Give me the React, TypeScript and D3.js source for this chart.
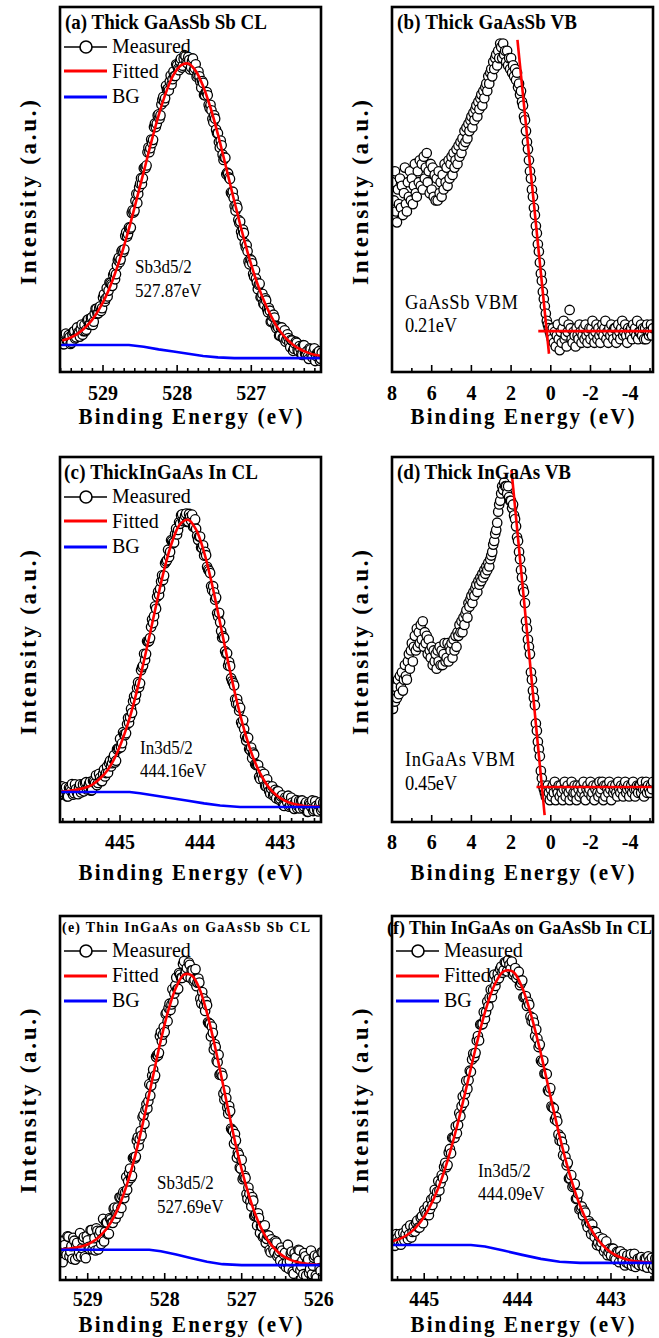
import React from 'react';
import * as d3 from 'd3';

const FONT = "'Liberation Serif', 'Times New Roman', Times, serif";
type Pt = [number, number];

// ---------------- data ----------------
// tick labels
const ticksA = [529, 528, 527];
const ticksC = [445, 444, 443];
const ticksE = [529, 528, 527, 526];
const ticksF = [445, 444, 443];
const ticksVB = [8, 6, 4, 2, 0, -2, -4];

// (a) Thick GaAsSb Sb CL
const aFitStart = 529.55;
const aFit = [8.6, 9.3, 10.4, 12.0, 14.2, 17.3, 21.2, 26.3, 32.3, 39.3, 47.0, 54.9, 62.9, 70.3, 76.6, 81.4, 84.0, 84.5, 82.5, 78.3, 72.4, 65.1, 56.9, 48.5, 40.4, 32.8, 26.1, 20.5, 16.0, 12.3, 9.6, 7.7, 6.3, 5.4, 4.7, 4.4];
const aMeasStart = 529.55;
const aMeas = [
  9.4, 7.6, 10.5, 8.6, 9.6, 8.0, 11.0, 9.2, 12.2, 10.6, 11.8, 10.2, 12.9, 11.6, 14.4, 13.0,
  15.0, 13.8, 17.3, 16.0, 17.6, 16.7, 20.4, 19.3, 23.0, 22.3, 24.4, 23.6, 27.2, 26.8, 30.6, 30.1,
  33.1, 32.9, 37.3, 37.1, 39.6, 39.6, 44.3, 44.2, 48.8, 48.8, 51.6, 51.5, 55.8, 55.9, 60.2, 60.2,
  63.7, 63.6, 68.1, 68.0, 70.6, 70.3, 74.6, 74.1, 78.4, 77.6, 79.6, 78.8, 82.3, 81.1, 84.0, 82.7,
  85.8, 83.9, 86.8, 84.9, 86.3, 82.9, 85.1, 82.6, 84.3, 81.3, 81.0, 77.9, 79.2, 75.8, 76.7, 73.2,
  73.2, 69.4, 70.3, 66.4, 65.4, 61.5, 62.1, 58.1, 58.7, 54.6, 53.3, 49.2, 49.4, 45.5, 45.8, 41.7,
  41.2, 37.3, 38.1, 34.2, 33.1, 29.5, 30.6, 26.9, 27.9, 24.5, 23.9, 20.5, 21.4, 18.4, 19.6, 16.4,
  16.8, 13.9, 15.7, 12.7, 12.6, 10.0, 12.1, 9.4, 11.4, 8.9, 9.3, 6.8, 8.6, 6.4, 8.3, 6.0,
  7.1, 4.9, 7.4, 5.1, 5.7, 3.6, 6.2, 4.0, 6.5, 4.4, 5.2, 3.1, 5.3,
];
const aMeas2Start = 529.5375;
const aMeas2 = [
  7.6, 10.3, 8.6, 10.1, 7.7, 10.3, 11.2, 9.5, 10.8, 9.7, 13.0, 11.2, 11.2, 14.2, 13.0, 14.8,
  12.9, 16.0, 17.3, 16.1, 18.0, 17.5, 21.3, 20.1, 20.7, 24.5, 24.0, 26.6, 25.4, 29.2, 31.3, 30.8,
  33.4, 33.6, 38.3, 37.8, 39.2, 43.6, 43.7, 46.9, 46.3, 50.6, 53.1, 53.1, 56.1, 56.6, 61.5, 61.3,
  62.7, 67.1, 67.1, 70.3, 69.4, 73.3, 75.4, 75.0, 77.4, 77.1, 81.2, 80.2, 81.1, 84.3, 83.1, 85.1,
  83.4, 85.8, 86.5, 84.6, 85.5, 83.5, 85.9, 83.2, 80.9, 82.3, 79.5, 79.7, 75.9, 76.7, 75.8, 72.3,
  71.7, 68.4, 69.4, 65.4, 63.0, 63.4, 59.6, 58.8, 54.2, 54.4, 52.9, 48.8, 47.7, 44.2, 45.0, 40.8,
  38.4, 39.0, 35.3, 34.7, 30.3, 30.9, 29.8, 26.1, 25.6, 22.7, 24.2, 20.6, 18.8, 20.2, 17.3, 17.5,
  13.8, 15.2, 14.9, 12.0, 12.2, 10.0, 12.2, 9.3, 8.3, 10.3, 8.0, 8.8, 5.8, 7.8, 8.0, 5.7,
  6.4, 4.7, 7.3, 4.9, 4.2, 6.5, 4.6, 5.7, 3.0, 5.2, 5.7, 3.6,
];
const aBG: Pt[] = [[529.58, 7.4], [528.65, 7.4], [528.45, 6.9], [528.25, 6.2], [528.05, 5.6], [527.85, 5.0], [527.65, 4.4], [527.45, 4.0], [527.23, 3.8], [526.06, 3.8]];

// (c) Thick InGaAs In CL
const cFitStart = 445.75;
const cFit = [8.3, 8.5, 8.8, 9.3, 10.2, 11.9, 14.4, 18.3, 23.8, 30.8, 39.5, 49.2, 59.3, 69.0, 76.7, 81.6, 82.8, 80.1, 73.9, 65.0, 54.5, 43.8, 33.9, 25.3, 18.4, 13.3, 9.7, 7.4, 5.9, 5.05, 4.6, 4.3, 4.2, 4.15];
const cMeasStart = 445.75;
const cMeas = [
  7.4, 9.8, 8.1, 9.5, 7.0, 9.1, 10.4, 7.9, 9.0, 7.6, 10.3, 8.8, 8.4, 10.9, 9.5, 11.0,
  8.7, 11.1, 12.8, 10.7, 12.1, 11.2, 14.4, 13.4, 13.5, 16.8, 16.1, 18.3, 16.8, 20.2, 22.8, 21.6,
  24.0, 24.3, 28.5, 28.7, 29.9, 34.4, 34.9, 38.3, 38.0, 42.4, 46.1, 46.0, 49.4, 50.4, 55.5, 56.4,
  58.4, 63.1, 63.9, 67.6, 67.5, 71.4, 74.6, 74.0, 76.9, 76.6, 80.4, 80.0, 81.7, 84.3, 82.9, 84.5,
  82.3, 83.6, 84.2, 81.0, 80.3, 77.3, 78.2, 75.1, 73.0, 73.1, 69.2, 68.2, 63.5, 62.9, 61.5, 56.3,
  54.7, 50.5, 50.4, 46.1, 42.9, 42.7, 38.6, 37.4, 32.4, 32.3, 31.3, 26.7, 25.5, 22.3, 23.1, 19.7,
  17.5, 18.5, 15.6, 15.6, 11.8, 12.9, 13.2, 9.8, 9.9, 7.8, 9.8, 7.6, 6.5, 8.4, 6.4, 7.3,
  4.4, 6.2, 7.2, 4.5, 5.3, 3.6, 6.0, 4.3, 3.7, 5.9, 4.2, 5.4, 2.8, 4.8, 5.9, 3.4,
  4.4, 2.9, 5.4, 3.8, 3.3,
];
const cMeas2Start = 445.7375;
const cMeas2 = [
  9.5, 7.7, 8.9, 7.0, 9.4, 8.4, 7.5, 10.3, 8.0, 9.4, 8.1, 10.3, 10.6, 8.9, 10.4, 8.6,
  11.3, 10.6, 10.1, 13.2, 11.3, 13.2, 12.5, 15.2, 16.1, 15.2, 17.3, 16.3, 19.9, 20.2, 20.5, 24.6,
  23.8, 26.8, 27.2, 31.0, 33.1, 33.4, 36.7, 36.9, 41.6, 42.9, 44.4, 49.5, 49.6, 53.4, 54.5, 59.1,
  61.7, 62.2, 65.9, 66.3, 70.9, 71.7, 72.6, 77.2, 76.4, 78.9, 78.8, 82.1, 84.0, 82.4, 83.9, 82.2,
  84.4, 82.6, 80.9, 82.9, 78.4, 78.2, 75.2, 75.8, 74.0, 69.9, 68.8, 64.6, 64.6, 60.9, 57.2, 57.3,
  52.3, 50.9, 46.8, 46.2, 43.8, 39.4, 38.1, 33.6, 33.7, 30.5, 27.3, 27.9, 23.5, 23.1, 20.0, 20.4,
  19.0, 15.8, 15.7, 12.4, 13.8, 11.8, 9.9, 11.7, 8.5, 9.2, 7.3, 8.8, 8.4, 6.1, 7.0, 4.6,
  6.7, 5.4, 4.2, 6.7, 4.1, 5.3, 3.8, 5.8, 5.8, 3.8, 4.9, 2.8, 5.2, 4.1, 3.0, 5.7,
  3.3, 4.6, 3.2, 5.3,
];
const cBG: Pt[] = [[445.75, 8.2], [444.88, 8.2], [444.75, 7.9], [444.55, 7.2], [444.35, 6.5], [444.15, 5.8], [443.95, 5.1], [443.75, 4.5], [443.5, 4.1], [442.45, 4.1]];

// (e) Thin InGaAs on GaAsSb Sb CL
const eFitStart = 529.35;
const eFit = [8.4, 8.6, 8.9, 9.4, 10.35, 11.9, 14.2, 17.7, 22.6, 29.0, 37.0, 46.3, 56.2, 65.9, 74.3, 80.5, 83.9, 83.7, 80.1, 73.3, 64.4, 54.45, 44.2, 34.6, 26.4, 19.6, 14.4, 10.6, 8.1, 6.4, 5.4, 4.8, 4.45, 4.25, 4.15];
const eMeasStart = 529.35;
const eMeas = [
  10.8, 4.9, 9.6, 6.9, 11.9, 7.8, 5.8, 10.8, 9.5, 6.5, 12.9, 8.8, 11.8, 6.0, 10.9, 8.5,
  13.7, 9.8, 8.1, 13.5, 12.5, 9.9, 16.8, 13.2, 15.8, 12.7, 16.7, 15.7, 19.9, 18.3, 18.2, 22.7,
  23.0, 22.5, 28.3, 27.1, 30.6, 28.6, 33.7, 33.9, 39.2, 38.7, 39.7, 45.3, 46.7, 47.1, 53.8, 53.4,
  57.8, 56.2, 61.8, 62.4, 68.1, 67.4, 68.1, 73.5, 74.7, 74.2, 79.9, 78.7, 83.1, 80.0, 83.9, 83.0,
  87.6, 84.8, 83.3, 86.6, 85.1, 82.1, 85.4, 81.7, 81.7, 76.0, 77.4, 73.9, 75.5, 70.5, 66.9, 67.9,
  64.8, 60.2, 61.9, 56.6, 56.1, 49.5, 50.0, 45.7, 46.4, 41.2, 37.4, 38.3, 35.0, 30.9, 33.0, 28.2,
  28.0, 22.3, 23.7, 20.2, 21.8, 17.7, 15.0, 17.0, 14.8, 11.8, 15.0, 11.3, 12.2, 7.6, 10.1, 7.6,
  10.3, 7.1, 5.3, 8.1, 7.0, 3.6, 9.7, 5.2, 7.8, 1.7, 6.2, 3.3, 8.1, 3.8, 1.6, 6.5,
  5.1, 1.9, 8.1, 3.9, 6.7, 0.6, 5.3, 2.5, 7.5,
];
const eMeas2Start = 529.3375;
const eMeas2 = [
  5.4, 10.7, 7.6, 12.0, 6.5, 9.3, 11.6, 5.6, 10.2, 7.7, 6.5, 11.1, 6.5, 12.0, 9.1, 13.7,
  8.4, 11.5, 14.2, 8.4, 13.4, 11.4, 10.6, 15.7, 12.6, 17.0, 15.8, 19.6, 16.9, 19.9, 22.7, 19.8,
  24.2, 24.1, 24.8, 29.4, 28.0, 33.5, 33.4, 38.3, 36.8, 40.9, 44.7, 42.9, 48.3, 49.1, 50.7, 56.2,
  55.4, 61.3, 61.7, 67.0, 65.6, 69.5, 73.1, 71.1, 75.9, 75.7, 76.4, 80.9, 79.9, 84.3, 83.0, 86.8,
  84.0, 85.7, 87.2, 83.0, 85.1, 82.5, 80.7, 82.8, 77.3, 79.1, 75.3, 76.5, 70.8, 70.4, 69.6, 63.3,
  64.0, 59.8, 56.4, 56.9, 51.2, 52.1, 47.4, 47.8, 41.6, 41.0, 40.1, 33.6, 34.4, 30.6, 27.7, 28.6,
  23.6, 25.4, 21.6, 22.8, 17.6, 18.1, 18.3, 12.9, 14.7, 12.1, 10.2, 12.3, 8.3, 11.2, 8.4, 10.7,
  6.5, 7.9, 8.9, 4.4, 7.5, 4.7, 3.1, 7.3, 2.3, 7.4, 4.1, 8.3, 2.7, 5.3, 7.4, 1.2,
  5.6, 3.0, 1.6, 6.1, 1.2, 6.5, 3.3, 7.6,
];
const eBG: Pt[] = [[529.36, 8.3], [528.2, 8.3], [528.05, 7.9], [527.85, 7.0], [527.65, 6.0], [527.45, 5.0], [527.25, 4.35], [527.0, 4.1], [525.97, 4.1]];

// (f) Thin InGaAs on GaAsSb In CL
const fFitStart = 445.35;
const fFit = [10.55, 11.45, 13.0, 15.6, 19.6, 25.2, 32.8, 42.1, 52.7, 63.6, 73.5, 80.9, 84.8, 84.7, 80.3, 72.3, 62.1, 50.65, 39.5, 29.7, 21.7, 15.7, 11.4, 8.6, 6.8, 5.8, 5.2, 4.95, 4.8, 4.75];
const fMeasStart = 445.35;
const fMeas = [
  9.4, 11.7, 12.6, 10.5, 9.7, 12.9, 12.5, 11.2, 15.0, 13.2, 13.3, 16.3, 14.4, 17.5, 19.2, 17.9,
  17.8, 22.1, 22.7, 22.4, 27.2, 26.6, 28.0, 32.2, 31.6, 36.0, 39.1, 39.1, 40.3, 45.9, 47.7, 48.7,
  54.7, 54.9, 57.2, 62.2, 62.4, 67.0, 70.2, 70.3, 71.7, 76.5, 77.5, 77.7, 83.9, 82.4, 82.9, 86.1,
  85.1, 87.2, 87.9, 85.5, 83.9, 85.7, 83.8, 81.0, 82.3, 77.8, 75.3, 75.6, 71.1, 70.7, 68.8, 64.0,
  60.3, 60.3, 56.7, 52.1, 52.7, 47.4, 44.1, 43.6, 38.3, 38.0, 36.2, 31.5, 27.9, 28.8, 26.0, 22.3,
  23.7, 19.7, 17.7, 18.5, 14.5, 15.5, 15.2, 11.8, 9.6, 11.8, 10.3, 7.9, 10.6, 7.7, 6.7, 8.6,
  5.6, 7.5, 7.9, 5.4, 4.0, 6.8, 5.8, 3.9, 7.2, 4.6, 4.1, 6.3, 3.8, 5.8, 6.5, 4.1,
  3.0, 5.9, 5.1, 3.4, 6.8,
];
const fMeas2Start = 445.3375;
const fMeas2 = [
  11.7, 9.4, 11.5, 12.6, 10.8, 10.9, 14.1, 12.5, 11.7, 14.7, 15.7, 14.4, 17.1, 15.6, 18.5, 20.4,
  19.5, 20.6, 24.8, 24.2, 24.6, 28.8, 31.1, 31.0, 35.0, 34.8, 39.0, 42.2, 42.6, 45.0, 50.4, 51.1,
  52.5, 57.5, 60.6, 61.3, 65.8, 65.8, 70.2, 73.6, 73.6, 75.2, 79.8, 79.7, 80.8, 84.1, 85.4, 84.4,
  87.3, 84.8, 86.6, 87.5, 84.4, 83.0, 84.7, 81.6, 77.7, 78.0, 76.4, 72.4, 72.0, 67.0, 66.3, 64.7,
  59.9, 56.7, 56.6, 51.8, 47.7, 47.2, 44.8, 40.0, 39.3, 34.3, 33.8, 32.2, 27.9, 25.6, 26.4, 22.4,
  19.4, 20.2, 19.1, 15.6, 16.2, 12.6, 13.4, 13.2, 10.3, 9.3, 11.4, 8.7, 6.8, 8.6, 8.6, 6.1,
  7.7, 4.9, 6.6, 7.2, 4.9, 4.5, 7.1, 5.0, 3.6, 5.8, 6.1, 4.1, 5.9, 3.4, 5.3, 6.1,
  4.0, 3.7, 6.5, 4.5,
];
const fBG: Pt[] = [[445.35, 9.6], [444.5, 9.6], [444.35, 9.2], [444.15, 8.1], [443.95, 6.9], [443.75, 5.8], [443.55, 5.0], [443.33, 4.7], [442.5, 4.7]];

// (b) Thick GaAsSb VB
const bMeasStart = 8.0;
const bMeas = [
  52, 43, 47, 55, 44, 41, 50, 46, 53, 45, 51, 43, 49, 56, 46, 44, 52, 48, 55, 47,
  53, 46, 51, 57, 49, 48, 55, 52, 58, 51, 57, 50, 59, 53, 56, 60, 52, 55, 49, 57,
  50, 56, 48, 54, 47, 53, 47, 55, 49, 52, 48, 54, 50, 57, 52, 56, 51, 58, 53, 57,
  59, 54, 60, 56, 58, 61, 57, 62, 59, 63, 60, 64, 62, 66, 63, 67, 64, 68, 66, 69,
  70, 67, 71, 69, 72, 73, 70, 74, 72, 75, 76, 73, 77, 75, 78, 79, 77, 81, 79, 82,
  83, 81, 85, 83, 86, 87, 84, 88, 86, 90, 89, 86, 90, 87, 88, 85, 88, 84, 86, 83,
  86, 82, 84, 81, 83, 80, 82, 78, 79, 76, 77, 74, 73, 70, 69, 66, 63, 61, 58, 55,
  53, 50, 48, 45, 43, 40, 38, 35, 33, 30, 27, 25, 22, 20, 18, 16, 14, 13, 12, 11,
  10, 9, 12, 8, 11, 7, 10, 13, 9, 6, 11, 8, 12, 14, 9, 10, 7, 11, 13, 17,
  12, 9, 8, 11, 10, 7, 12, 10, 9, 13, 11, 8, 10, 12, 9, 13, 10, 8, 11, 12,
  9, 12, 14, 10, 8, 11, 13, 9, 12, 10, 8, 11, 13, 10, 12, 14, 9, 11, 8, 12,
  10, 13, 11, 9, 12, 12, 8, 10, 13, 11, 9, 12, 14, 10, 11, 13, 10, 8, 12, 11,
  10, 12, 9, 13, 11, 12, 10, 14, 9, 11, 11, 13, 10, 12, 9, 12, 9, 13, 11, 10,
  11, 13, 10, 12,
];
const bSteep: Pt[] = [[1.68, 91], [0.09, 5]];
const bFlat: Pt[] = [[0.63, 11.2], [-5.15, 11.2]];

// (d) Thick InGaAs VB
const dMeasStart = 8.0;
const dMeas = [
  38, 31, 35, 33, 37, 34, 39, 35, 40, 37, 41, 36, 39, 43, 40, 39, 44, 46, 42, 47,
  49, 44, 48, 51, 47, 53, 48, 52, 49, 54, 50, 55, 48, 52, 49, 51, 46, 50, 47, 45,
  48, 43, 47, 44, 46, 42, 47, 44, 48, 43, 47, 43, 46, 49, 44, 45, 49, 44, 48, 47,
  49, 45, 50, 47, 51, 48, 52, 51, 54, 52, 55, 52, 56, 54, 57, 58, 56, 60, 59, 61,
  62, 60, 63, 62, 64, 65, 63, 66, 65, 67, 66, 68, 67, 69, 68, 70, 69, 71, 70, 72,
  73, 74, 76, 77, 79, 80, 82, 85, 87, 88, 90, 92, 91, 93, 92, 92, 90, 92, 89, 88,
  88, 86, 87, 84, 83, 81, 78, 77, 74, 72, 69, 67, 64, 63, 60, 55, 53, 50, 48, 46,
  41, 39, 36, 34, 32, 27, 25, 22, 20, 18, 14, 12, 10, 9, 8, 7, 9, 10, 8, 6,
  9, 7, 10, 8, 11, 6, 9, 8, 10, 7, 10, 8, 6, 9, 11, 7, 9, 10, 8, 6,
  9, 11, 7, 8, 10, 8, 6, 10, 9, 7, 10, 8, 9, 11, 7, 6, 9, 10, 8, 9,
  11, 7, 8, 10, 6, 9, 10, 8, 7, 11, 8, 9, 11, 6, 10, 7, 10, 9, 8, 11,
  9, 6, 10, 8, 9, 10, 8, 7, 11, 9, 8, 10, 9, 7, 10, 11, 8, 9, 10, 7,
  9, 10, 8, 11, 9, 7, 9, 10, 8, 10, 10, 8, 11, 9, 7, 9, 11, 8, 10, 9,
  8, 10, 9, 11,
];
const dSteep: Pt[] = [[1.98, 96.4], [0.31, 1.9]];
const dFlat: Pt[] = [[0.72, 9.6], [-5.15, 9.6]];

// ---------------- helpers ----------------
function onGrid(start: number, step: number, vals: number[]): Pt[] {
  return vals.map((v, i) => [start - i * step, v] as Pt);
}
function merged(a: Pt[], b: Pt[]): Pt[] {
  return [...a, ...b].sort((p, q) => q[0] - p[0]);
}

interface Spec {
  id: string;
  x0: number; x1: number; y0: number; y1: number;
  domain: [number, number];
  labels: number[];
  sub: number; majorMod: number;
  measured: Pt[];
  fit?: Pt[]; bg?: Pt[]; red?: Pt[][];
  title: string; titleSize: number; titleX: number; titleBase: number; titleLen?: number;
  legend?: { lineY: number[]; textBase: number[] };
  notes: string[]; noteX: number; noteBase: number[]; noteSize: number; noteLen?: (number | undefined)[];
  tickBase: number; axisBase: number;
}

const SY = 1.1;

function HText(p: { x: number; y: number; size: number; bold?: boolean; anchor?: string; len?: number; children: React.ReactNode }) {
  return (
    <text
      transform={`translate(${p.x},${p.y}) scale(1,${SY})`}
      fontSize={p.size}
      fontWeight={p.bold ? 'bold' : 'normal'}
      textAnchor={p.anchor || 'start'}
      textLength={p.len}
      lengthAdjust={p.len ? 'spacing' : undefined}
      fontFamily={FONT}
      fill="#000"
    >
      {p.children}
    </text>
  );
}

function Panel({ s }: { s: Spec }) {
  const x = d3.scaleLinear().domain(s.domain).range([s.x0, s.x1]);
  const y = d3.scaleLinear().domain([0, 100]).range([s.y1, s.y0]);
  const line = d3.line<Pt>().x(d => x(d[0])).y(d => y(d[1])).curve(d3.curveCatmullRom);
  const straight = d3.line<Pt>().x(d => x(d[0])).y(d => y(d[1]));
  const lo = Math.min(s.domain[0], s.domain[1]);
  const hi = Math.max(s.domain[0], s.domain[1]);
  const ticks: { v: number; major: boolean }[] = [];
  for (let k = Math.ceil(lo * s.sub - 1e-6); k <= Math.floor(hi * s.sub + 1e-6); k++) {
    ticks.push({ v: k / s.sub, major: Math.abs(k) % s.majorMod === 0 });
  }
  const pts = s.measured.filter(d => d[0] <= hi + 0.03 && d[0] >= lo - 0.03);
  const cx = (s.x0 + s.x1) / 2;
  const cy = (s.y0 + s.y1) / 2 + 3;
  const lx = s.x0;
  return (
    <g>
      <defs>
        <clipPath id={`clip-${s.id}`}>
          <rect x={s.x0} y={s.y0} width={s.x1 - s.x0} height={s.y1 - s.y0} />
        </clipPath>
      </defs>
      <g clipPath={`url(#clip-${s.id})`}>
        {pts.map((d, i) => (
          <circle key={i} cx={x(d[0])} cy={y(d[1])} r={4.7} fill="#fff" stroke="#000" strokeWidth={1.3} />
        ))}
        {s.fit && <path d={line(s.fit) || ''} fill="none" stroke="#ff0000" strokeWidth={2.6} />}
        {s.bg && <path d={straight(s.bg) || ''} fill="none" stroke="#0000ff" strokeWidth={2.6} />}
        {s.red && s.red.map((r, i) => (
          <path key={i} d={straight(r) || ''} fill="none" stroke="#ff0000" strokeWidth={2.6} />
        ))}
      </g>
      <HText x={s.titleX} y={s.titleBase} size={s.titleSize} bold len={s.titleLen}>{s.title}</HText>
      <rect x={s.x0} y={s.y0} width={s.x1 - s.x0} height={s.y1 - s.y0} fill="none" stroke="#000" strokeWidth={2.6} />
      {ticks.map((t, i) => (
        <line key={i} x1={x(t.v)} x2={x(t.v)} y1={s.y1} y2={s.y1 - (t.major ? 7 : 4)} stroke="#000" strokeWidth={1.6} />
      ))}
      {s.labels.map(v => (
        <HText key={v} x={x(v)} y={s.tickBase} size={20} bold anchor="middle">{String(v)}</HText>
      ))}
      <HText x={cx} y={s.axisBase} size={21} bold anchor="middle" len={224}>Binding Energy (eV)</HText>
      <text
        transform={`translate(${s.x0 - 24},${cy}) rotate(-90)`}
        fontSize={23}
        fontWeight="bold"
        textAnchor="middle"
        textLength={185}
        lengthAdjust="spacing"
        fontFamily={FONT}
      >
        Intensity (a.u.)
      </text>
      {s.legend && (
        <g>
          <line x1={lx + 4} x2={lx + 47} y1={s.legend.lineY[0]} y2={s.legend.lineY[0]} stroke="#000" strokeWidth={1.6} />
          <circle cx={lx + 26} cy={s.legend.lineY[0]} r={6} fill="#fff" stroke="#000" strokeWidth={1.6} />
          <HText x={lx + 52} y={s.legend.textBase[0]} size={20}>Measured</HText>
          <line x1={lx + 4} x2={lx + 47} y1={s.legend.lineY[1]} y2={s.legend.lineY[1]} stroke="#ff0000" strokeWidth={3} />
          <HText x={lx + 52} y={s.legend.textBase[1]} size={20}>Fitted</HText>
          <line x1={lx + 4} x2={lx + 47} y1={s.legend.lineY[2]} y2={s.legend.lineY[2]} stroke="#0000ff" strokeWidth={3} />
          <HText x={lx + 52} y={s.legend.textBase[2]} size={20}>BG</HText>
        </g>
      )}
      {s.notes.map((n, i) => (
        <HText key={i} x={s.noteX} y={s.noteBase[i]} size={s.noteSize} len={s.noteLen ? s.noteLen[i] : undefined}>{n}</HText>
      ))}
    </g>
  );
}

const L = { x0: 60, x1: 321 };
const R = { x0: 392, x1: 653 };
const leg12 = (y0: number) => ({ lineY: [y0 + 40, y0 + 64, y0 + 90], textBase: [y0 + 46, y0 + 71, y0 + 96] });
const leg3 = (y0: number) => ({ lineY: [y0 + 35, y0 + 60, y0 + 85], textBase: [y0 + 41, y0 + 66, y0 + 91] });

const specs: Spec[] = [
  {
    id: 'a', ...L, y0: 7, y1: 372, domain: [529.58, 526.06], labels: ticksA, sub: 7, majorMod: 7,
    measured: merged(onGrid(aMeasStart, 0.025, aMeas), onGrid(aMeas2Start, 0.025, aMeas2)),
    fit: onGrid(aFitStart, 0.1, aFit), bg: aBG,
    title: '(a) Thick GaAsSb Sb CL', titleSize: 19, titleX: 65, titleBase: 29, titleLen: 202,
    legend: leg12(7), notes: ['Sb3d5/2', '527.87eV'], noteX: 135, noteBase: [273, 297], noteSize: 17,
    tickBase: 400, axisBase: 424,
  },
  {
    id: 'b', ...R, y0: 7, y1: 372, domain: [8, -5.15], labels: ticksVB, sub: 1, majorMod: 2,
    measured: onGrid(bMeasStart, 0.05, bMeas), red: [bSteep, bFlat],
    title: '(b) Thick GaAsSb VB', titleSize: 19, titleX: 397, titleBase: 29, titleLen: 180,
    notes: ['GaAsSb VBM', '0.21eV'], noteX: 405, noteBase: [309, 332], noteSize: 18.5, noteLen: [113, 52],
    tickBase: 400, axisBase: 424,
  },
  {
    id: 'c', ...L, y0: 457, y1: 822, domain: [445.75, 442.49], labels: ticksC, sub: 7, majorMod: 7,
    measured: merged(onGrid(cMeasStart, 0.025, cMeas), onGrid(cMeas2Start, 0.025, cMeas2)),
    fit: onGrid(cFitStart, 0.1, cFit), bg: cBG,
    title: '(c) ThickInGaAs In CL', titleSize: 19, titleX: 64, titleBase: 479, titleLen: 194,
    legend: leg12(457), notes: ['In3d5/2', '444.16eV'], noteX: 140, noteBase: [754, 777], noteSize: 17,
    tickBase: 849, axisBase: 880,
  },
  {
    id: 'd', ...R, y0: 457, y1: 822, domain: [8, -5.15], labels: ticksVB, sub: 1, majorMod: 2,
    measured: onGrid(dMeasStart, 0.05, dMeas), red: [dSteep, dFlat],
    title: '(d) Thick InGaAs VB', titleSize: 19, titleX: 397, titleBase: 479,
    notes: ['InGaAs VBM', '0.45eV'], noteX: 405, noteBase: [766, 790], noteSize: 18.5, noteLen: [110, 52],
    tickBase: 849, axisBase: 880,
  },
  {
    id: 'e', ...L, y0: 916, y1: 1280, domain: [529.36, 525.97], labels: ticksE, sub: 7, majorMod: 7,
    measured: merged(onGrid(eMeasStart, 0.025, eMeas), onGrid(eMeas2Start, 0.025, eMeas2)),
    fit: onGrid(eFitStart, 0.1, eFit), bg: eBG,
    title: '(e) Thin InGaAs on GaAsSb Sb CL', titleSize: 14, titleX: 62, titleBase: 932, titleLen: 248,
    legend: leg3(916), notes: ['Sb3d5/2', '527.69eV'], noteX: 157, noteBase: [1189, 1213], noteSize: 17,
    tickBase: 1306, axisBase: 1332,
  },
  {
    id: 'f', ...R, y0: 916, y1: 1280, domain: [445.345, 442.55], labels: ticksF, sub: 7, majorMod: 7,
    measured: merged(onGrid(fMeasStart, 0.025, fMeas), onGrid(fMeas2Start, 0.025, fMeas2)),
    fit: onGrid(fFitStart, 0.1, fFit), bg: fBG,
    title: '(f) Thin InGaAs on GaAsSb In CL', titleSize: 18, titleX: 387, titleBase: 934, titleLen: 265,
    legend: leg3(916), notes: ['In3d5/2', '444.09eV'], noteX: 478, noteBase: [1177, 1200], noteSize: 17,
    tickBase: 1306, axisBase: 1332,
  },
];

export default function App() {
  return (
    <svg
      width={659}
      height={1338}
      viewBox="0 0 659 1338"
      style={{ position: 'absolute', left: 0, top: 0, display: 'block', background: '#fff' }}
    >
      <rect x={0} y={0} width={659} height={1338} fill="#fff" />
      {specs.map(s => <Panel key={s.id} s={s} />)}
    </svg>
  );
}
